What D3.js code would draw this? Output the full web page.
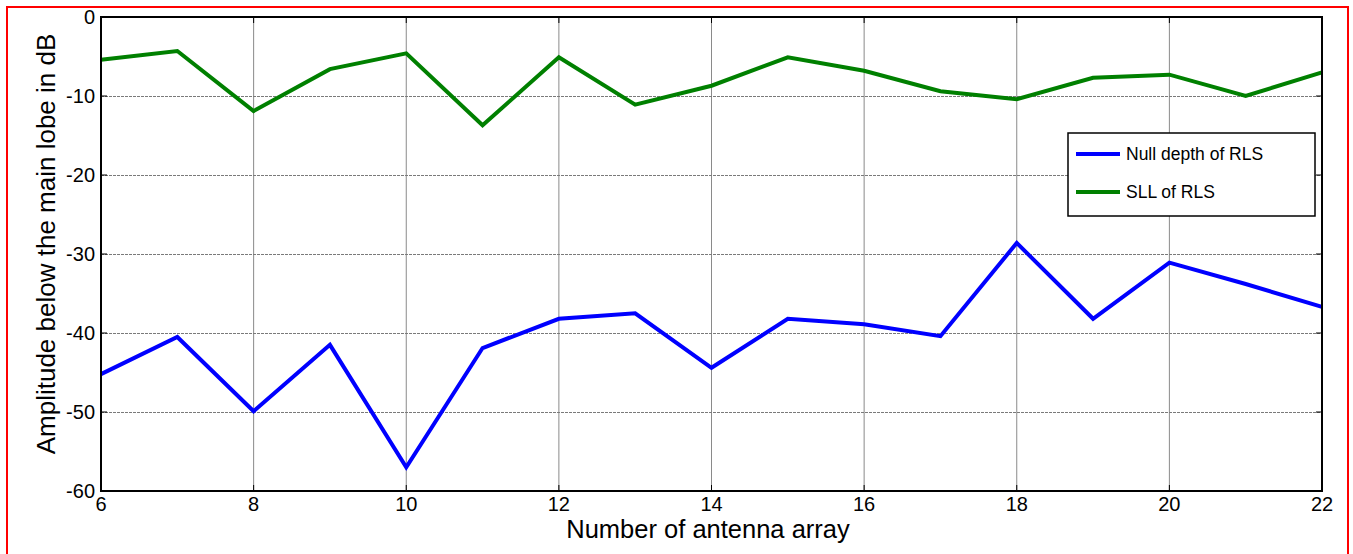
<!DOCTYPE html>
<html><head><meta charset="utf-8">
<script src="https://cdn.jsdelivr.net/npm/d3@7"></script>
<style>body{margin:0;background:#fff}svg{display:block;font-family:"Liberation Sans",Arial,sans-serif}</style>
</head><body>
<svg id="c" width="1353" height="554"></svg>
<script>
const arraySizes = [6,7,8,9,10,11,12,13,14,15,16,17,18,19,20,21,22];
const nullDepth = [-45.2,-40.5,-49.9,-41.5,-57.0,-41.9,-38.2,-37.5,-44.4,-38.2,-38.9,-40.4,-28.6,-38.2,-31.1,-33.8,-36.7];
const sll = [-5.4,-4.3,-11.9,-6.6,-4.6,-13.7,-5.1,-11.1,-8.7,-5.1,-6.8,-9.4,-10.4,-7.7,-7.3,-10.0,-7.0];
const xTicks = [6,8,10,12,14,16,18,20,22];
const yTicks = [0,-10,-20,-30,-40,-50,-60];
const seriesNames = ["Null depth of RLS","SLL of RLS"];
const seriesColors = ["#0000ff","#008000"];

const svg = d3.select("#c");
const L=101,R=1322,T=17,B=491;
svg.append("rect").attr("x",7).attr("y",7).attr("width",1341).attr("height",560).attr("fill","none").attr("stroke","#ff0000").attr("stroke-width",2);
const x = d3.scaleLinear().domain([6,22]).range([L,R]);
const y = d3.scaleLinear().domain([-60,0]).range([B,T]);

const g = svg.append("g");
// grid
g.selectAll(".gx").data(xTicks).join("line").attr("x1",d=>x(d)).attr("x2",d=>x(d)).attr("y1",T).attr("y2",B).attr("stroke","#8a8a8a").attr("stroke-width",1);
g.selectAll(".gy").data(yTicks).join("line").attr("x1",L).attr("x2",R).attr("y1",d=>y(d)+0.5).attr("y2",d=>y(d)+0.5).attr("stroke","#7a7a7a").attr("stroke-width",1).attr("stroke-dasharray","3,1");
// tick marks inside
const tl=6;
xTicks.forEach(d=>{
  g.append("line").attr("x1",x(d)).attr("x2",x(d)).attr("y1",B).attr("y2",B-tl).attr("stroke","#000");
  g.append("line").attr("x1",x(d)).attr("x2",x(d)).attr("y1",T).attr("y2",T+tl).attr("stroke","#000");
});
yTicks.forEach(d=>{
  g.append("line").attr("x1",L).attr("x2",L+tl).attr("y1",y(d)).attr("y2",y(d)).attr("stroke","#000");
  g.append("line").attr("x1",R).attr("x2",R-tl).attr("y1",y(d)).attr("y2",y(d)).attr("stroke","#000");
});
// lines
const line = d3.line().x((d,i)=>x(arraySizes[i])).y(d=>y(d));
[nullDepth,sll].forEach((s,k)=>{
  g.append("path").attr("d",line(s)).attr("fill","none").attr("stroke",seriesColors[k]).attr("stroke-width",4).attr("stroke-linejoin","miter");
});
// axes box
g.append("rect").attr("x",L).attr("y",T).attr("width",R-L).attr("height",B-T).attr("fill","none").attr("stroke","#000").attr("stroke-width",2);
// tick labels
g.selectAll(".xl").data(xTicks).join("text").attr("x",d=>x(d)).attr("y",B+20).attr("text-anchor","middle").attr("font-size",20).text(d=>d);
g.selectAll(".yl").data(yTicks).join("text").attr("x",L-6).attr("y",d=>y(d)+7).attr("text-anchor","end").attr("font-size",20).text(d=>d);
// titles
svg.append("text").attr("x",708).attr("y",538).attr("text-anchor","middle").attr("font-size",25.5).text("Number of antenna array");
svg.append("text").attr("transform","translate(55,244) rotate(-90)").attr("text-anchor","middle").attr("font-size",26).text("Amplitude below the main lobe in dB");
// legend
const lg = svg.append("g");
lg.append("rect").attr("x",1068).attr("y",133).attr("width",247).attr("height",83).attr("fill","#fff").attr("stroke","#000").attr("stroke-width",1.5);
seriesNames.forEach((n,i)=>{
  const yy = 154+i*38;
  lg.append("line").attr("x1",1076).attr("x2",1120).attr("y1",yy).attr("y2",yy).attr("stroke",seriesColors[i]).attr("stroke-width",4);
  lg.append("text").attr("x",1126).attr("y",yy+6).attr("font-size",17.5).text(n);
});
</script>
</body></html>
